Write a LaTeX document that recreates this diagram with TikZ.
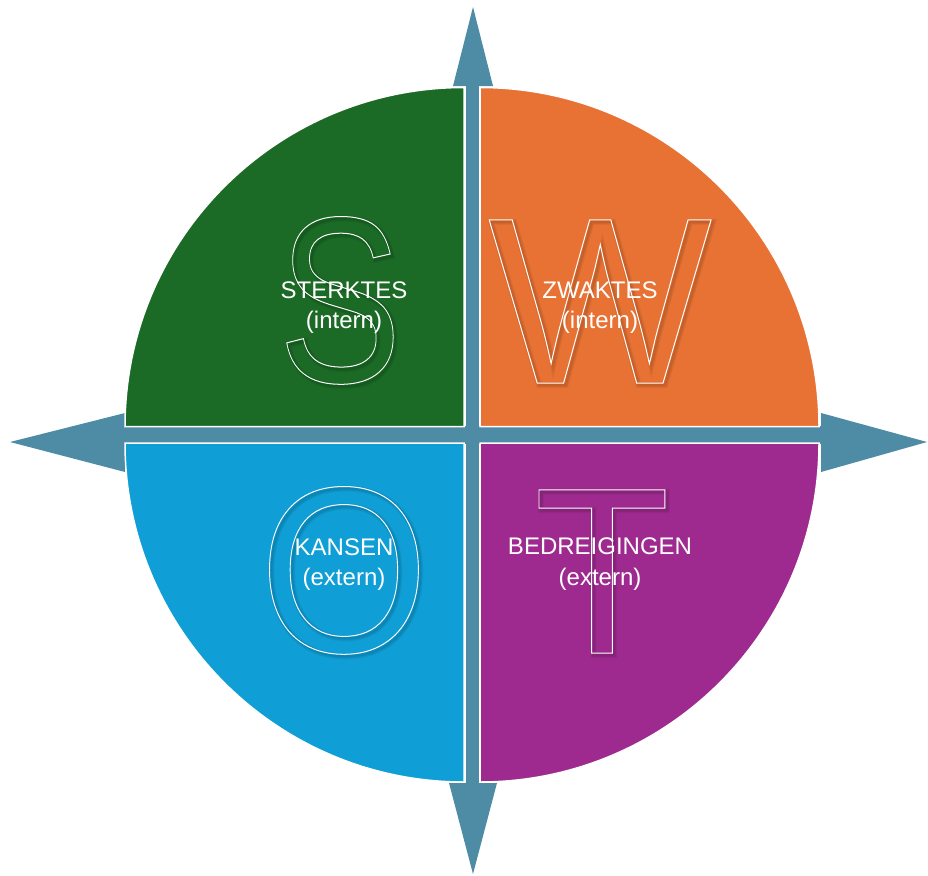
\documentclass[tikz,border=0pt]{standalone}
\usepackage{fontspec}
\setmainfont{Liberation Sans}
\usepackage{graphicx}

\definecolor{swotgreen}{RGB}{27,106,37}
\definecolor{swotorange}{RGB}{232,114,52}
\definecolor{swotblue}{RGB}{15,158,213}
\definecolor{swotpurple}{RGB}{158,42,143}
\definecolor{compass}{RGB}{78,140,166}

% hollow glyphs: stroke only (text render mode 1), #1 = stroke width
\newcommand\hollow[2]{\special{pdf:literal 1 Tr #1 w}#2\special{pdf:literal 0 Tr}}
\newcommand\bigletter{\fontsize{237}{237}\selectfont}

\begin{document}
\begin{tikzpicture}[x=1pt,y=-1pt,
    quadrant/.style={draw=white, line width=1.5pt},
    letter/.style={text=white, anchor=base, inner sep=0pt, font=\bigletter},
    quadtext/.style={text=white, anchor=base, inner sep=0pt, font=\fontsize{24}{30}\selectfont}]

  \useasboundingbox (0,0) rectangle (928,875);

  % =============================================
  % Compass cross: bars and four arrow heads
  % =============================================
  \fill[compass] (465.5,80) rectangle (479,790);
  \fill[compass] (120,426) rectangle (826,444);
  \fill[compass] (473,7) -- (493,86) -- (453,86) -- cycle;      % north
  \fill[compass] (473,874) -- (449,783) -- (497,783) -- cycle;  % south
  \fill[compass] (10,442) -- (125,413) -- (125,472) -- cycle;   % west
  \fill[compass] (927,442) -- (821,413) -- (821,472) -- cycle;  % east

  % =============================================
  % Four quarter discs
  % =============================================
  \fill[swotgreen, quadrant]
    (464,426.5) -- (125,426.5) arc[start angle=180, end angle=270, radius=339] -- cycle;
  \fill[swotorange, quadrant]
    (480,426.5) -- (480,87.5) arc[start angle=270, end angle=360, radius=339] -- cycle;
  \fill[swotblue, quadrant]
    (464,443) -- (125,443) arc[start angle=180, end angle=90, radius=339] -- cycle;
  \fill[swotpurple, quadrant]
    (480,443) -- (819,443) arc[start angle=0, end angle=90, radius=339] -- cycle;

  % =============================================
  % Big outlined letters (soft shadow first)
  % =============================================
  \foreach \w in {2,4,6} {
    \begin{scope}[opacity=0.05]
      \node[letter, text=black] at (342,384) {\scalebox{0.78}[1]{\hollow{\w}{S}}};
      \node[letter, text=black] at (602,385) {\hollow{\w}{W}};
      \node[letter, text=black] at (346,654) {\scalebox{0.92}[1]{\hollow{\w}{O}}};
      \node[letter, text=black] at (604,655) {\scalebox{0.94}[1]{\hollow{\w}{T}}};
    \end{scope}
  }
  \node[letter] (s-letter) at (340,382) {\scalebox{0.78}[1]{\hollow{1}{S}}};
  \node[letter] (w-letter) at (600,383) {\hollow{1}{W}};
  \node[letter] (o-letter) at (344,652) {\scalebox{0.92}[1]{\hollow{1}{O}}};
  \node[letter] (t-letter) at (602,653) {\scalebox{0.94}[1]{\hollow{1}{T}}};

  % =============================================
  % Labels
  % =============================================
  \node[quadtext] (s-title) at (344,298) {STERKTES};
  \node[quadtext] (s-sub)   at (344,328) {(intern)};
  \node[quadtext] (w-title) at (600,298) {ZWAKTES};
  \node[quadtext] (w-sub)   at (600,328) {(intern)};
  \node[quadtext] (o-title) at (344,555) {KANSEN};
  \node[quadtext] (o-sub)   at (344,585) {(extern)};
  \node[quadtext] (t-title) at (600,554) {BEDREIGINGEN};
  \node[quadtext] (t-sub)   at (600,585) {(extern)};

\end{tikzpicture}
\end{document}
